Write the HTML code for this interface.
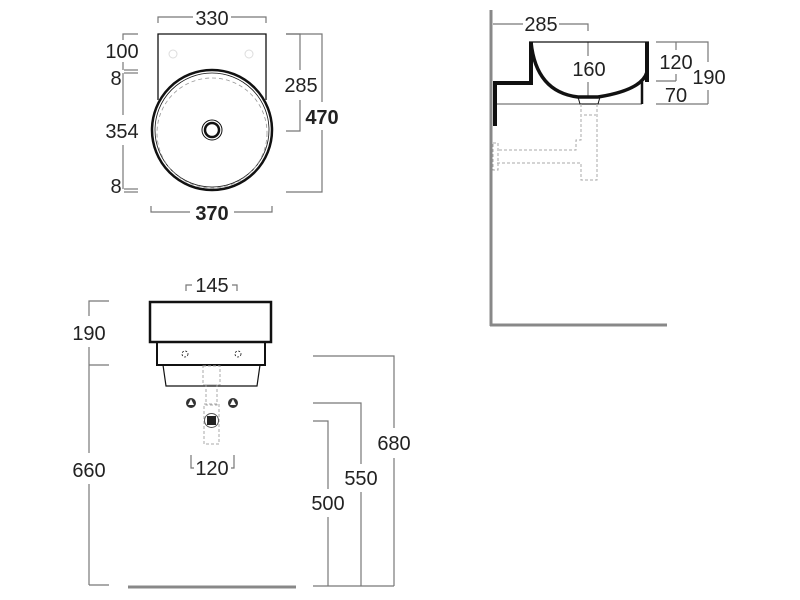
<!DOCTYPE html>
<html><head><meta charset="utf-8"><style>body{margin:0;background:#fff}svg{display:block}</style></head><body>
<svg width="800" height="600" viewBox="0 0 800 600" xmlns="http://www.w3.org/2000/svg" font-family="Liberation Sans, sans-serif">
<g fill="none" stroke="#777" stroke-width="1.2">
<polyline points="158,23 158,17 193,17"/><polyline points="231,17 266,17 266,23"/>
<polyline points="138,34 123,34 123,40"/><line x1="123" y1="62" x2="123" y2="70"/>
<line x1="124" y1="70" x2="138" y2="70"/><line x1="124" y1="73" x2="138" y2="73"/>
<line x1="123" y1="73" x2="123" y2="115"/><line x1="123" y1="145" x2="123" y2="189"/>
<line x1="124" y1="189" x2="138" y2="189"/><line x1="124" y1="192" x2="138" y2="192"/>
<polyline points="286,34 300,34 300,70"/><polyline points="300,100 300,131 286,131"/>
<polyline points="286,34 322,34 322,102"/><polyline points="322,130 322,192 286,192"/>
<polyline points="151,206 151,212 190,212"/><polyline points="234,212 272,212 272,206"/>
<polyline points="493,24 523,24"/><polyline points="559,24 588,24 588,31"/>
<line x1="588" y1="42" x2="588" y2="56"/><line x1="588" y1="82" x2="588" y2="97"/>
<polyline points="656,42 708,42 708,62"/><line x1="708" y1="90" x2="708" y2="104"/>
<line x1="676" y1="42" x2="676" y2="50"/><line x1="676" y1="74" x2="676" y2="81"/>
<line x1="656" y1="81" x2="676" y2="81"/><line x1="656" y1="104" x2="708" y2="104"/>
<line x1="497" y1="104" x2="642" y2="104"/>
<polyline points="186,291 186,285 192,285"/><polyline points="232,285 237,285 237,291"/>
<polyline points="109,301 89,301 89,316"/><line x1="89" y1="347" x2="89" y2="453"/>
<line x1="89" y1="365" x2="109" y2="365"/><line x1="89" y1="484" x2="89" y2="585"/>
<line x1="89" y1="585" x2="109" y2="585"/>
<polyline points="191,455 191,468 194,468"/><polyline points="231,468 234,468 234,455"/>
<polyline points="313,356 394,356 394,428"/><line x1="394" y1="458" x2="394" y2="586"/>
<polyline points="313,403 361,403 361,464"/><line x1="361" y1="492" x2="361" y2="586"/>
<polyline points="313,421 328,421 328,489"/><line x1="328" y1="517" x2="328" y2="586"/>
<line x1="313" y1="586" x2="394" y2="586"/>
</g>
<g fill="none" stroke="#111">
<polyline points="158,100 158,34 266,34 266,100" stroke-width="1.3"/>
<circle cx="212" cy="130" r="60" stroke-width="2.5"/>
<circle cx="212" cy="130" r="57" stroke-width="0.8"/>
<circle cx="212" cy="133" r="55" stroke="#999" stroke-width="0.8" stroke-dasharray="4 3"/>
<circle cx="212" cy="130" r="10" stroke-width="1"/>
<circle cx="212" cy="130" r="7" stroke-width="2.5"/>
<circle cx="173" cy="54" r="4" stroke="#ddd"/><circle cx="249" cy="54" r="4" stroke="#ddd"/>
</g>
<line x1="491" y1="10" x2="491" y2="326" stroke="#888" stroke-width="3"/>
<line x1="490" y1="325" x2="667" y2="325" stroke="#888" stroke-width="3"/>
<g stroke="#111" fill="none">
<line x1="529" y1="42" x2="649" y2="42" stroke-width="1.2"/>
<path d="M531,42 Q536,92 578,97 L598,97 Q642,90 647,72" stroke-width="3.5"/>
<polyline points="495,126 495,83 531,83 531,42" stroke-width="4"/>
<line x1="647" y1="42" x2="647" y2="82" stroke-width="4"/>
<line x1="642" y1="82" x2="642" y2="104" stroke-width="2.5"/>
<path d="M578,97 L580,104 L598,104 L600,97" stroke-width="1"/>
</g>
<g fill="none" stroke="#aaa" stroke-dasharray="3 2" stroke-width="1">
<polyline points="581,104 581,140 576,140 576,150 497,150"/>
<polyline points="597,104 597,180 581,180 581,163 497,163"/>
<rect x="493" y="143" width="5" height="27"/>
<line x1="584" y1="115" x2="596" y2="115"/>
</g>
<g fill="none" stroke="#111">
<rect x="150" y="302" width="121" height="40" stroke-width="2.5"/>
<rect x="157" y="342" width="108" height="23" stroke-width="2"/>
<polyline points="163,365 166,386 257,386 260,365" stroke-width="1.2"/>
<circle cx="185" cy="354" r="3" stroke-dasharray="2 1.5" stroke-width="0.8"/>
<circle cx="238" cy="354" r="3" stroke-dasharray="2 1.5" stroke-width="0.8"/>
</g>
<g fill="none" stroke="#aaa" stroke-dasharray="3 2">
<rect x="203" y="366" width="17" height="19"/><rect x="206" y="385" width="11" height="20"/>
<rect x="204" y="404" width="15" height="40"/>
</g>
<rect x="207" y="416" width="9" height="9" fill="#222"/>
<circle cx="211.5" cy="420.5" r="7" fill="none" stroke="#555"/>
<circle cx="191" cy="403" r="5" fill="#333"/><circle cx="233" cy="403" r="5" fill="#333"/>
<polygon points="191,399 188,405 194,405" fill="#fff"/><polygon points="233,399 230,405 236,405" fill="#fff"/>
<line x1="128" y1="587" x2="296" y2="587" stroke="#888" stroke-width="3"/>
<g font-size="20" fill="#222" text-anchor="middle">
<text x="212" y="25">330</text>
<text x="122" y="58">100</text>
<text x="116" y="85">8</text>
<text x="122" y="138">354</text>
<text x="116" y="193">8</text>
<text x="301" y="92">285</text>
<text x="322" y="124" font-weight="bold">470</text>
<text x="212" y="220" font-weight="bold">370</text>
<text x="541" y="31">285</text>
<text x="589" y="76">160</text>
<text x="676" y="69">120</text>
<text x="709" y="84">190</text>
<text x="676" y="102">70</text>
<text x="212" y="292">145</text>
<text x="89" y="340">190</text>
<text x="89" y="477">660</text>
<text x="212" y="475">120</text>
<text x="394" y="450">680</text>
<text x="361" y="485">550</text>
<text x="328" y="510">500</text>
</g>
</svg>
</body></html>
